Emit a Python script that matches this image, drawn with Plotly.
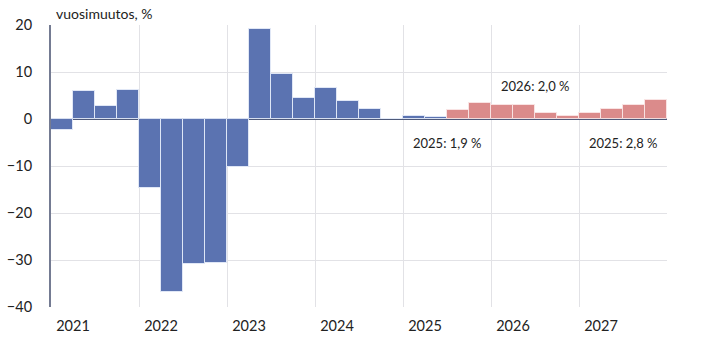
import plotly.graph_objects as go

years = ["2021", "2022", "2023", "2024", "2025", "2026", "2027"]
quarters = ["Q1", "Q2", "Q3", "Q4"]
# quarterly year-on-year change, % (2021Q1 .. 2027Q4)
actual = [-2.4, 6.0, 2.8, 6.2,
          -14.7, -36.8, -30.9, -30.7,
          -10.3, 19.1, 9.6, 4.5,
          6.7, 3.9, 2.1, 0.0,
          0.7, 0.4]
forecast = [2.0, 3.3,
            3.0, 3.0, 1.2, 0.6,
            1.2, 2.1, 3.0, 4.0]
annot_text = ["2025: 1,9 %", "2026: 2,0 %", "2025: 2,8 %"]
annot_x = [18.0, 22.0, 26.0]      # quarter index positions
annot_y = [-5.2, 7.0, -5.2]
y_ticks = [-40, -30, -20, -10, 0, 10, 20]

FONT = "Lato"
BLUE = "#5b73b1"
RED = "#db8b8b"

n_act = len(actual)
x_act = [i + 0.5 for i in range(n_act)]
x_fc = [n_act + i + 0.5 for i in range(len(forecast))]

fig = go.Figure()
fig.add_trace(go.Bar(x=x_act, y=actual, width=1.0, marker=dict(color=BLUE, line=dict(color="rgba(230,236,250,0.9)", width=1)),
                     showlegend=False, hoverinfo="skip"))
fig.add_trace(go.Bar(x=x_fc, y=forecast, width=1.0, marker=dict(color=RED, line=dict(color="rgba(250,230,230,0.9)", width=1)),
                     showlegend=False, hoverinfo="skip"))
# invisible trace to activate grid axis
fig.add_trace(go.Scatter(x=[0, 28], y=[0, 0], xaxis="x2", mode="lines", line=dict(width=0),
                         showlegend=False, hoverinfo="skip"))

n_total = len(years) * 4
fig.update_layout(
    width=728, height=344,
    margin=dict(l=51, r=61, t=25, b=37),
    paper_bgcolor="white", plot_bgcolor="white",
    bargap=0,
    font=dict(family=FONT, size=14, color="#222222"),
    xaxis=dict(range=[0, n_total], tickvals=[i * 4 + 1 for i in range(len(years))], ticktext=years,
               showgrid=False, zeroline=False, showline=False, ticks="", tickfont=dict(size=14.5),
               ticklabelstandoff=8, automargin=False),
    xaxis2=dict(range=[0, n_total], overlaying="x", tickvals=[i * 4 for i in range(1, len(years) + 1)],
                showgrid=True, gridcolor="#e2e2e6", gridwidth=1, showticklabels=False, zeroline=False,
                showline=False, ticks="", automargin=False),
    yaxis=dict(range=[-40, 20], tickvals=y_ticks, showgrid=True, gridcolor="#e2e2e6", gridwidth=1,
               zeroline=True, zerolinecolor="#4f5a7a", zerolinewidth=1.5,
               showline=True, linecolor="#747b92", linewidth=2, ticks="", tickfont=dict(size=14.5),
               ticklabelstandoff=14, automargin=False),
)

fig.add_annotation(text="vuosimuutos, %", xref="paper", yref="paper", x=0.005, y=1.0, xanchor="left", yanchor="bottom",
                   yshift=1, showarrow=False, font=dict(family=FONT, size=14, color="#222222"))
for t, xv, yv in zip(annot_text, annot_x, annot_y):
    fig.add_annotation(text=t, x=xv, y=yv, xref="x", yref="y", showarrow=False,
                       font=dict(family=FONT, size=13, color="#222222"))

fig.write_html("out.html")
